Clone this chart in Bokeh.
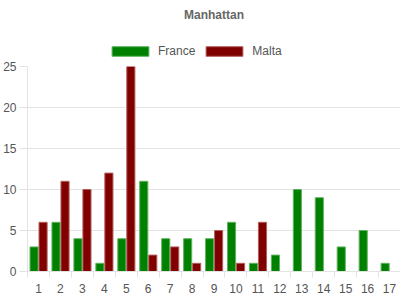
from bokeh.plotting import figure
from bokeh.layouts import column
from bokeh.models import ColumnDataSource, Range1d, FixedTicker, Legend, LegendItem
from bokeh.embed import file_html
from bokeh.resources import INLINE
from bokeh.transform import dodge

categories = [str(i) for i in range(1, 18)]
france = [3, 6, 4, 1, 4, 11, 4, 4, 4, 6, 1, 2, 10, 9, 3, 5, 1]
malta = [6, 11, 10, 12, 25, 2, 3, 1, 5, 1, 6, 0, 0, 0, 0, 0, 0]
y_ticks = [0, 5, 10, 15, 20, 25]
series_names = ["France", "Malta"]
series_colors = ["#008000", "#800000"]
series_borders = ["#5fb35f", "#b35f5f"]

xpos = list(range(1, len(categories) + 1))
src = ColumnDataSource(dict(x=xpos, france=france, malta=malta))

FONT = "Liberation Sans"
GRID = "#e3e3e3"
TXT = "#555555"

# ---- header (title + legend) ----
head = figure(width=400, height=58, output_backend="svg", toolbar_location=None,
              x_range=Range1d(0, 0.5), y_range=Range1d(-2, -1),
              x_axis_location=None, y_axis_location=None,
              min_border_left=0, min_border_right=0, min_border_bottom=0, min_border_top=0)
head.grid.visible = False
head.outline_line_color = None
head.title.text = "Manhattan"
head.title.align = "center"
head.title.text_font = FONT
head.title.text_font_size = "12px"
head.title.text_font_style = "bold"
head.title.text_color = "#666666"

# legend proxies: same data, out of the header's view
h1 = head.vbar(x="x", top="france", width=0.37, source=src,
               fill_color=series_colors[0], line_color=series_borders[0])
h2 = head.vbar(x="x", top="malta", width=0.37, source=src,
               fill_color=series_colors[1], line_color=series_borders[1])
legend = Legend(items=[LegendItem(label=series_names[0], renderers=[h1]),
                       LegendItem(label=series_names[1], renderers=[h2])],
                orientation="horizontal", location=(80, 0),
                glyph_width=46, glyph_height=12, label_standoff=5, spacing=6,
                padding=4, margin=0, border_line_color=None, background_fill_alpha=0,
                label_text_font=FONT, label_text_font_size="12px", label_text_color=TXT)
head.add_layout(legend, "center")

# ---- main chart ----
p = figure(width=400, height=242, output_backend="svg", toolbar_location=None,
           x_range=Range1d(0.5, len(categories) + 0.5), y_range=Range1d(0, 25),
           min_border_left=27, min_border_right=0, min_border_bottom=29, min_border_top=8)
p.outline_line_color = None

p.vbar(x=dodge("x", -0.2, range=p.x_range), top="france", width=0.37, source=src,
       fill_color=series_colors[0], line_color=series_borders[0], line_width=1)
p.vbar(x=dodge("x", 0.21, range=p.x_range), top="malta", width=0.37, source=src,
       fill_color=series_colors[1], line_color=series_borders[1], line_width=1)

p.xaxis.ticker = FixedTicker(ticks=xpos, minor_ticks=[i + 0.5 for i in range(0, len(categories) + 1)])
p.xaxis.major_label_overrides = {i: c for i, c in zip(xpos, categories)}
p.xaxis.major_tick_out = 0
p.xaxis.major_tick_in = 0
p.xaxis.minor_tick_out = 6
p.xaxis.minor_tick_in = 0
p.xaxis.minor_tick_line_color = GRID
p.xaxis.axis_line_color = GRID
p.xaxis.major_label_standoff = 6
p.xaxis.major_label_text_font = FONT
p.xaxis.major_label_text_font_size = "12px"
p.xaxis.major_label_text_color = TXT
p.xgrid.grid_line_color = None

p.yaxis.ticker = FixedTicker(ticks=y_ticks)
p.yaxis.major_tick_out = 8
p.yaxis.major_tick_in = 0
p.yaxis.major_tick_line_color = GRID
p.yaxis.minor_tick_line_color = None
p.yaxis.axis_line_color = GRID
p.yaxis.major_label_standoff = 3
p.yaxis.major_label_text_font = FONT
p.yaxis.major_label_text_font_size = "12px"
p.yaxis.major_label_text_color = TXT
p.ygrid.grid_line_color = GRID

layout = column(head, p, spacing=0)
open("out.html", "w").write(file_html(layout, INLINE))
